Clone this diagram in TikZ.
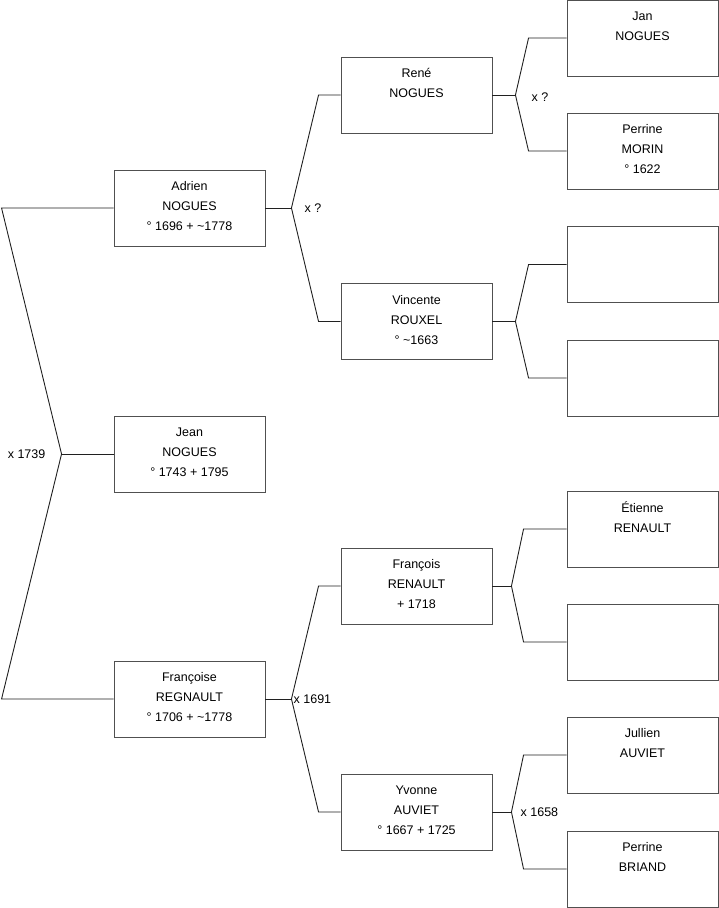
\documentclass[tikz,border=0pt]{standalone}
\usepackage{fontspec}
\setmainfont{Liberation Sans}
\usepackage{xcolor}
\definecolor{boxline}{HTML}{505050}
\definecolor{linkline}{HTML}{202020}
\usetikzlibrary{calc}

\begin{document}
\begin{tikzpicture}[x=1pt, y=-1pt,
  person/.style={draw=boxline, fill=white, line width=0.9pt,
    minimum width=151pt, minimum height=76pt, inner sep=0pt,
    text depth=4pt, align=center, font=\fontsize{12.5}{20}\selectfont},
  link/.style={draw=linkline, line width=0.9pt},
  union/.style={anchor=west, inner sep=0pt, font=\fontsize{12.5}{14}\selectfont}
]
  \useasboundingbox (0,0) rectangle (719,908);

  % generation 1 and 2
  \node[person] (jean)      at (189.5,454) {Jean\\NOGUES\\° 1743 + 1795};
  \node[person] (adrien)    at (189.5,208) {Adrien\\NOGUES\\° 1696 + \textasciitilde1778};
  \node[person] (francoise) at (189.5,699) {Françoise\\REGNAULT\\° 1706 + \textasciitilde1778};

  % generation 3
  \node[person] (rene)      at (416.5,95)  {René\\NOGUES\\\mbox{}};
  \node[person] (vincente)  at (416.5,321.5) {Vincente\\ROUXEL\\° \textasciitilde1663};
  \node[person] (francois)  at (416.5,586) {François\\RENAULT\\+ 1718};
  \node[person] (yvonne)    at (416.5,812) {Yvonne\\AUVIET\\° 1667 + 1725};

  % generation 4
  \node[person] (jan)       at (642.5,38)  {Jan\\NOGUES\\\mbox{}};
  \node[person] (perrinem)  at (642.5,151) {Perrine\\MORIN\\° 1622};
  \node[person] (vfather)   at (642.5,264.5) {};
  \node[person] (vmother)   at (642.5,378) {};
  \node[person] (etienne)   at (642.5,529) {Étienne\\RENAULT\\\mbox{}};
  \node[person] (fmother)   at (642.5,642) {};
  \node[person] (jullien)   at (642.5,755) {Jullien\\AUVIET\\\mbox{}};
  \node[person] (perrineb)  at (642.5,869) {Perrine\\BRIAND\\\mbox{}};

  % unions
  \coordinate (ujean)     at ([xshift=-52]jean.west);
  \coordinate (uadrien)   at ([xshift=26]adrien.east);
  \coordinate (ufrancoise) at ([xshift=26]francoise.east);
  \coordinate (urene)     at ([xshift=23]rene.east);
  \coordinate (uvincente) at ([xshift=23]vincente.east);
  \coordinate (ufrancois) at ([xshift=19]francois.east);
  \coordinate (uyvonne)   at ([xshift=19]yvonne.east);

  \draw[link] (jean.west) -- (ujean);
  \draw[link] (adrien.west) -- ++(-112,0) -- (ujean) -- ([xshift=-112]francoise.west) -- (francoise.west);

  \draw[link] (adrien.east) -- (uadrien);
  \draw[link] (rene.west) -- ++(-22,0) -- (uadrien) -- ([xshift=-22]vincente.west) -- (vincente.west);
  \draw[link] (francoise.east) -- (ufrancoise);
  \draw[link] (francois.west) -- ++(-22,0) -- (ufrancoise) -- ([xshift=-22]yvonne.west) -- (yvonne.west);

  \draw[link] (rene.east) -- (urene);
  \draw[link] (jan.west) -- ++(-38,0) -- (urene) -- ([xshift=-38]perrinem.west) -- (perrinem.west);
  \draw[link] (vincente.east) -- (uvincente);
  \draw[link] (vfather.west) -- ++(-38,0) -- (uvincente) -- ([xshift=-38]vmother.west) -- (vmother.west);
  \draw[link] (francois.east) -- (ufrancois);
  \draw[link] (etienne.west) -- ++(-43,0) -- (ufrancois) -- ([xshift=-43]fmother.west) -- (fmother.west);
  \draw[link] (yvonne.east) -- (uyvonne);
  \draw[link] (jullien.west) -- ++(-43,0) -- (uyvonne) -- ([xshift=-43]perrineb.west) -- (perrineb.west);

  % marriage labels
  \node[union, anchor=east] (ljean) at ([xshift=-16]ujean) {x 1739};
  \node[union] (ladrien)    at ([xshift=13]uadrien) {x ?};
  \node[union] (lfrancoise) at ([xshift=2]ufrancoise) {x 1691};
  \node[union] (lrene)      at ([xshift=16,yshift=-2]urene) {x ?};
  \node[union] (lyvonne)    at ([xshift=9]uyvonne) {x 1658};
\end{tikzpicture}
\end{document}
